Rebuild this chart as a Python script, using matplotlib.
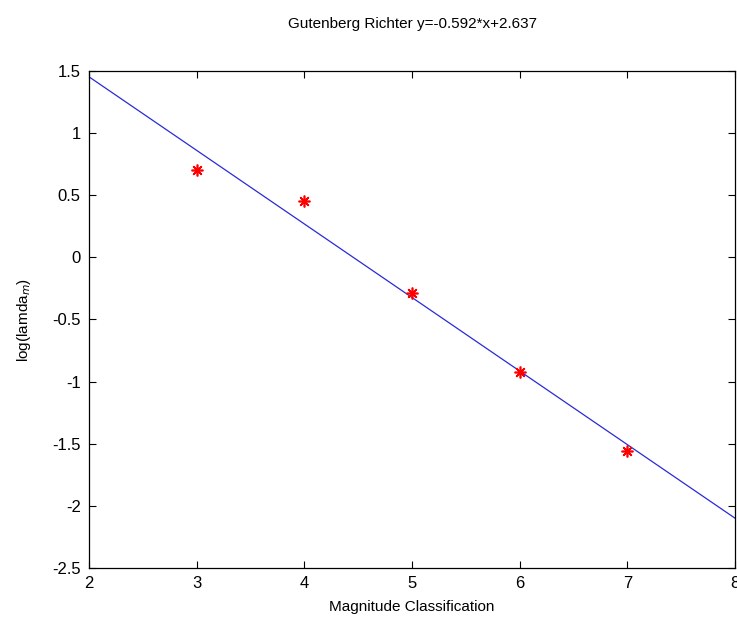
import numpy as np
import matplotlib.pyplot as plt

plt.rcParams['font.family'] = ['Liberation Sans', 'DejaVu Sans']

magnitude = [3, 4, 5, 6, 7]
log_lamda = [0.70, 0.45, -0.29, -0.92, -1.56]
slope = -0.592
intercept = 2.637

fig = plt.figure(figsize=(7.37, 6.19), dpi=100)
ax = fig.add_axes([0.1208, 0.0824, 0.8765, 0.8029])

xfit = np.array([2, 8])
ax.plot(xfit, slope*xfit + intercept, color='#2a2ad8', linewidth=0.9)
# matlab style '*' marker: 8 spokes
ax.plot(magnitude, log_lamda, linestyle='none', marker=(8, 2, 0), color='red',
        markersize=8.5, markeredgewidth=1.2)

ax.set_xlim(2, 8)
ax.set_ylim(-2.5, 1.5)
ax.set_xticks(range(2, 9))
ax.set_yticks(np.arange(-2.5, 1.51, 0.5))
ax.set_yticklabels(['-2.5', '-2', '-1.5', '-1', '-0.5', '0', '0.5', '1', '1.5'])
ax.tick_params(direction='in', top=True, right=True, labelsize=12, length=5, width=0.8)
ax.tick_params(axis='x', pad=6)
ax.tick_params(axis='y', pad=6)
for s in ax.spines.values():
    s.set_linewidth(0.9)

ax.set_xlabel('Magnitude Classification', fontsize=11, labelpad=6)
ax.set_ylabel(r'log(lamda$_m$)', fontsize=11, labelpad=14)
ax.set_title('Gutenberg Richter y=-0.592*x+2.637', fontsize=11, pad=31)

plt.savefig('out.png', dpi=100)
